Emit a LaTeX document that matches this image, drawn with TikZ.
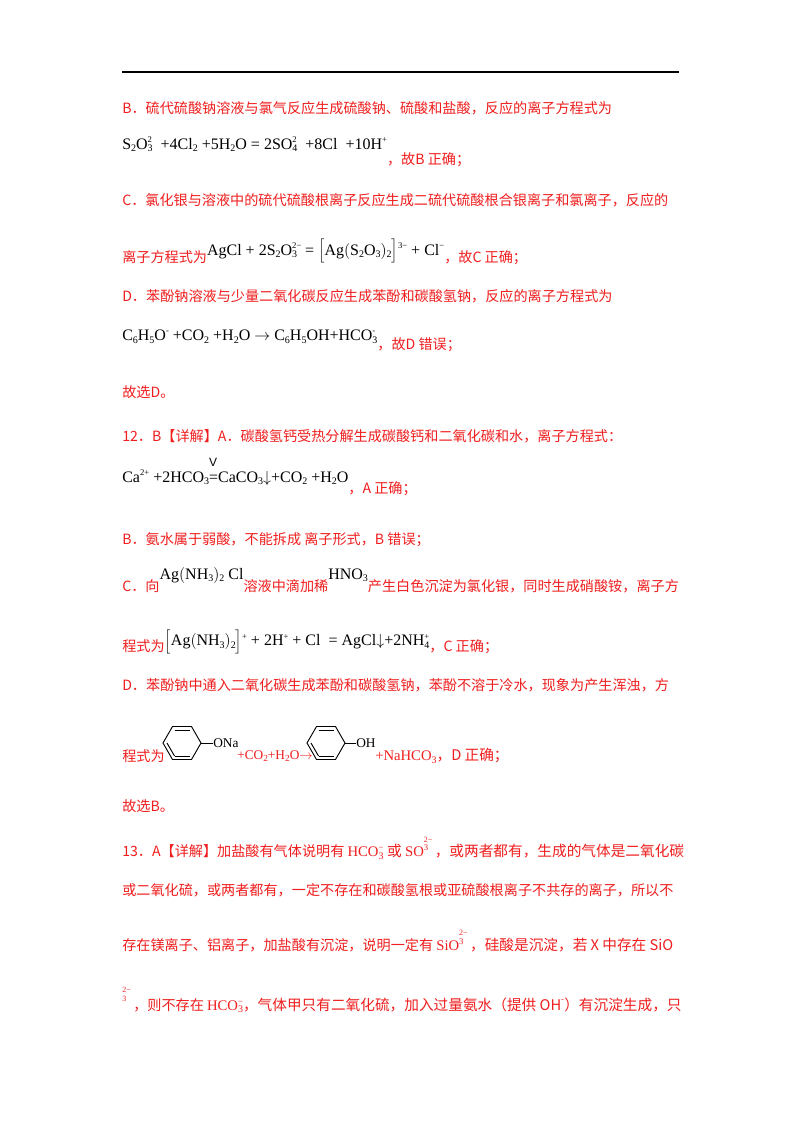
\documentclass[tikz,border=0pt]{standalone}
\usetikzlibrary{calc}
\usepackage{fontspec}
\setmainfont{Noto Sans CJK SC}
\newfontfamily\fml{Liberation Serif}
\newfontfamily\lat{Liberation Sans}
\definecolor{rd}{RGB}{240,30,30}
\newcommand{\dn}[1]{\raisebox{-0.35ex}{\fontsize{7.5}{7.5}\selectfont #1}}
\newcommand{\upp}[1]{\raisebox{0.9ex}{\fontsize{6.5}{6.5}\selectfont #1}}
\newcommand{\ud}[2]{\makebox[0pt][l]{\upp{#1}}\dn{#2}}
\newcommand{\F}[1]{{\fml\color{black}\fontsize{12}{12}\selectfont #1}}
\begin{document}
\begin{tikzpicture}[x=0.75pt,y=-0.75pt,
  t/.style={anchor=west,inner sep=0pt,text=rd,font=\fontsize{10.6}{13}\selectfont}]
\useasboundingbox (0,0) rectangle (800,1132);
\fill[white] (0,0) rectangle (800,1132);
\draw[line width=0.8pt] (122,72) -- (679,72);
\node[t] (l1) at (122,108) {B．硫代硫酸钠溶液与氯气反应生成硫酸钠、硫酸和盐酸，反应的离子方程式为};
\node[t] (l2) at (122,152) {\F{S\dn{2}O\ud{2}{3}\ \ +4Cl\dn{2} +5H\dn{2}O = 2SO\ud{2}{4}\ \ +8Cl\ \ +10H\upp{+}}\raisebox{-2ex}{，故B 正确；}};
\node[t] (l3) at (122,200) {C．氯化银与溶液中的硫代硫酸根离子反应生成二硫代硫酸根合银离子和氯离子，反应的};
\node[t] (l4) at (122,252) {离子方程式为\raisebox{1ex}{\F{AgCl + 2S\dn{2}O\ud{2−}{3}\ \ = $\Bigl[$Ag$\bigl($S\dn{2}O\dn{3}$\bigr)$\dn{2}$\Bigr]$\upp{3−} + Cl\upp{−}}}，故C 正确；};
\node[t] (l5) at (122,296) {D．苯酚钠溶液与少量二氧化碳反应生成苯酚和碳酸氢钠，反应的离子方程式为};
\node[t] (l6) at (122,341) {\F{C\dn{6}H\dn{5}O\upp{-} +CO\dn{2} +H\dn{2}O $\rightarrow$ C\dn{6}H\dn{5}OH+HCO\ud{-}{3}}\raisebox{-1.2ex}{，故D 错误；}};
\node[t] (l7) at (122,392) {故选D。};
\node[t] (l8) at (122,436) {12．B【详解】A．碳酸氢钙受热分解生成碳酸钙和二氧化碳和水，离子方程式：};
\node[t] (l9) at (122,477) {\F{Ca\upp{2+} +2HCO\dn{3}\makebox[0pt][l]{\raisebox{2.2ex}{\fontsize{9}{9}\lat V}}=CaCO\dn{3}$\downarrow$+CO\dn{2} +H\dn{2}O}\raisebox{-1.5ex}{，A 正确；}};
\node[t] (l10) at (122,540) {B．氨水属于弱酸，不能拆成\ 离子形式，B 错误；};
\node[t] (l11) at (122,580) {C．向\raisebox{1.6ex}{\F{Ag$\bigl($NH\dn{3}$\bigr)$\dn{2} Cl}}溶液中滴加稀\raisebox{1.6ex}{\F{HNO\dn{3}}}产生白色沉淀为氯化银，同时生成硝酸铵，离子方};
\node[t] (l12) at (122,642) {程式为\raisebox{0.8ex}{\F{$\Bigl[$Ag$\bigl($NH\dn{3}$\bigr)$\dn{2}$\Bigr]$\upp{+} + 2H\upp{+} + Cl\ \ = AgCl$\downarrow$+2NH\ud{+}{4}}}，C 正确；};
\node[t] (l13) at (122,685) {D．苯酚钠中通入二氧化碳生成苯酚和碳酸氢钠，苯酚不溶于冷水，现象为产生浑浊，方};
\node[t] (l14) at (122,756) {程式为};
\coordinate (r1) at (182,743);
\coordinate (r2) at (326,743);
\foreach \c in {r1,r2}{
  \draw[line width=0.7pt] ($(\c)+(19,0)$) -- ++(-9.5,16.5) -- ++(-19,0) -- ++(-9.5,-16.5) -- ++(9.5,-16.5) -- ++(19,0) -- cycle;
  \draw[line width=0.7pt] ($(\c)+(-7.5,-13)$) -- ++(15,0);
  \draw[line width=0.7pt] ($(\c)+(-7.5,13)$) -- ++(15,0);
  \draw[line width=0.7pt] ($(\c)+(-15,0)$) -- ++(7.5,13);
}
\node[anchor=west,inner sep=0pt,font=\fml\fontsize{10}{10}\selectfont] (ona) at (213,743) {ONa};
\draw[line width=0.7pt] ($(r1)+(19,0)$) -- (ona.west);
\node[anchor=west,inner sep=0pt,font=\fml\fontsize{10}{10}\selectfont] (oh) at (356,743) {OH};
\draw[line width=0.7pt] ($(r2)+(19,0)$) -- (oh.west);
\node[t,font=\fml\fontsize{10}{10}\selectfont] (m1) at (237,756) {+CO\raisebox{-0.3ex}{\fontsize{7}{7}\selectfont 2}+H\raisebox{-0.3ex}{\fontsize{7}{7}\selectfont 2}O$\rightarrow$};
\node[t] (m2) at (375,756) {\fml\fontsize{11}{11}\selectfont +NaHCO\dn{3}\fontspec{Noto Sans CJK SC}，D 正确；};
\node[t] (l15) at (122,806) {故选B。};
\node[t] (l16) at (122,848) {13．A【详解】加盐酸有气体说明有 \fml\fontsize{11}{11}\selectfont HCO\ud{−}{3}\ \fontspec{Noto Sans CJK SC}或 \fml SO\makebox[0pt][l]{\raisebox{2.2ex}{\fontsize{6}{6}\selectfont 2−}}\upp{3}\fontspec{Noto Sans CJK SC}\ \ ，或两者都有，生成的气体是二氧化碳};
\node[t] (l17) at (122,890) {或二氧化硫，或两者都有，一定不存在和碳酸氢根或亚硫酸根离子不共存的离子，所以不};
\node[t] (l18) at (122,941) {存在镁离子、铝离子，加盐酸有沉淀，说明一定有 \fml\fontsize{11}{11}\selectfont SiO\makebox[0pt][l]{\raisebox{2.2ex}{\fontsize{6}{6}\selectfont 2−}}\upp{3}\fontspec{Noto Sans CJK SC}\ \ ，硅酸是沉淀，若 X 中存在 SiO};
\node[t,font=\fml\fontsize{6}{6}\selectfont] (l19a) at (122,990) {2−};
\node[t,font=\fml\fontsize{6}{6}\selectfont] (l19b) at (122,999) {3};
\node[t] (l19) at (133,1005) {，则不存在 \fml\fontsize{11}{11}\selectfont HCO\ud{−}{3}\fontspec{Noto Sans CJK SC}，气体甲只有二氧化硫，加入过量氨水（提供 OH\upp{-}）有沉淀生成，只};
\end{tikzpicture}
\end{document}
